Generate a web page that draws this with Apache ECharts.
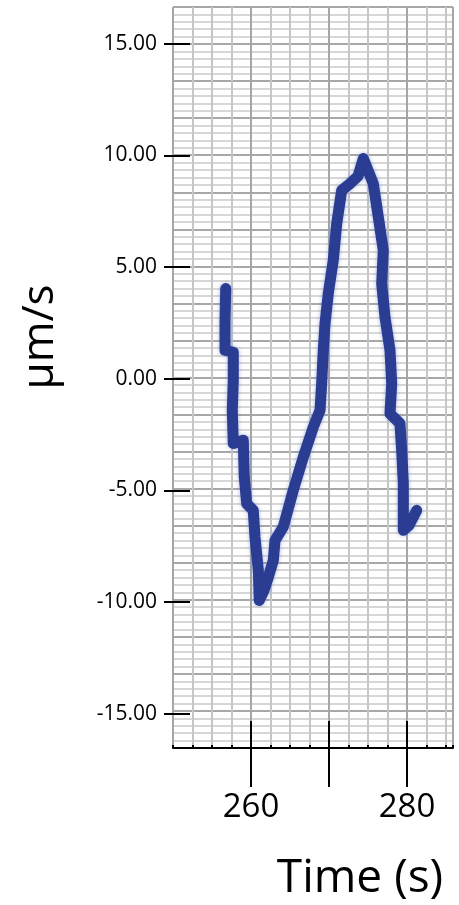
<!DOCTYPE html>
<html>
<head>
<meta charset="utf-8">
<script src="https://cdn.jsdelivr.net/npm/echarts@6/dist/echarts.min.js"></script>
<style>
  html, body { margin: 0; padding: 0; background: #fff; }
  #chart { width: 459px; height: 905px; }
</style>
</head>
<body>
<div id="chart"></div>
<script>
// time (s) and velocity (um/s)
var timeValues = [256.76, 256.67, 256.67, 257.73, 257.73, 257.60, 257.73, 259.01, 259.14, 259.45,
  260.29, 260.51, 260.94, 261.06, 261.67, 262.18, 262.86, 263.08, 264.14, 265.42,
  266.71, 267.99, 268.85, 269.06, 269.27, 269.49, 269.91, 270.55, 270.99, 271.63,
  272.69, 273.72, 274.40, 275.68, 276.32, 276.96, 276.76, 277.18, 277.82, 278.04,
  277.82, 279.10, 279.32, 279.53, 279.53, 280.26, 281.24];
var velocityValues = [4.03, 2.61, 1.27, 1.18, -0.08, -1.42, -2.91, -2.76, -4.41, -5.60,
  -5.90, -7.09, -8.58, -9.93, -9.48, -8.94, -8.14, -7.24, -6.64, -5.00,
  -3.51, -2.17, -1.42, -0.22, 1.27, 2.46, 3.81, 5.30, 6.94, 8.43,
  8.73, 9.06, 9.85, 8.73, 7.24, 5.75, 4.25, 2.76, 1.27, -0.22,
  -1.57, -2.01, -3.21, -4.70, -6.79, -6.57, -5.90];

var yTickValues = [15, 10, 5, 0, -5, -10, -15];
var xTickValues = [260, 270, 280];
var xLabelValues = [260, 280];

var font = '"Open Sans", "Noto Sans", sans-serif';
var xMin = 250, xMax = 285.9;
var yMin = -16.54, yMax = 16.64;

var points = timeValues.map(function (t, i) { return [t, velocityValues[i]]; });

var myChart = echarts.init(document.getElementById('chart'));

// hidden helper axes only draw the graph paper
function paperX(interval, color, width) {
    return {
        type: 'value', position: 'bottom', min: xMin, max: xMax, interval: interval,
        axisLine: { show: false, onZero: false }, axisTick: { show: false }, axisLabel: { show: false },
        splitLine: { show: true, lineStyle: { color: color, width: width } }
    };
}
function paperY(max, color, width) {
    return {
        type: 'value', position: 'left', min: 0, max: max, interval: 1,
        axisLine: { show: false, onZero: false }, axisTick: { show: false }, axisLabel: { show: false },
        splitLine: { show: true, lineStyle: { color: color, width: width } }
    };
}

var option = {
    animation: false,
    backgroundColor: '#ffffff',
    grid: { left: 173, right: 6, top: 7, bottom: 157 },
    xAxis: [
        {
            type: 'value', position: 'bottom', min: xMin, max: xMax,
            axisLine: { show: true, onZero: false, lineStyle: { color: '#000', width: 2 } },
            axisTick: { show: true, customValues: xTickValues, length: 39, lineStyle: { color: '#000', width: 2 } },
            axisLabel: { show: true, customValues: xLabelValues, margin: 43, fontSize: 33, fontFamily: font, color: '#000' },
            splitLine: { show: false }
        },
        {
            type: 'value', position: 'bottom', min: xMin, max: xMax,
            axisLine: { show: false, onZero: false },
            axisTick: { show: true, inside: true, customValues: xTickValues, length: 27, lineStyle: { color: '#000', width: 2 } },
            axisLabel: { show: false },
            splitLine: { show: false }
        },
        (function () {
            var a = paperX(2.5, '#c6c6c6', 2);
            a.axisTick = { show: true, inside: true, length: 3, lineStyle: { color: '#000', width: 2 } };
            return a;
        })(),
        paperX(10, '#a6a6a6', 2)
    ],
    yAxis: [
        {
            type: 'value', position: 'left', min: yMin, max: yMax, offset: -17,
            axisLine: { show: false, onZero: false },
            axisTick: { show: true, customValues: yTickValues, length: 26, lineStyle: { color: '#000', width: 2 } },
            axisLabel: {
                show: true, customValues: yTickValues, margin: 33, fontSize: 21, fontFamily: font, color: '#000',
                formatter: function (v) { return v.toFixed(2); }
            },
            splitLine: { show: false }
        },
        paperY(100, '#cacaca', 1.6),
        paperY(20, '#a8a8a8', 2)
    ],
    graphic: [
        {
            type: 'text', x: 360, y: 879,
            style: { text: 'Time (s)', font: '46px ' + font, fill: '#000',
                     textAlign: 'center', textVerticalAlign: 'middle', align: 'center', verticalAlign: 'middle' }
        },
        {
            type: 'text', x: 40, y: 337, rotation: Math.PI / 2,
            style: { text: 'µm/s', font: '44px ' + font, fill: '#000',
                     textAlign: 'center', textVerticalAlign: 'middle', align: 'center', verticalAlign: 'middle' }
        }
    ],
    series: [
        {
            type: 'line', xAxisIndex: 0, yAxisIndex: 0, z: 5,
            data: points,
            symbol: 'none',
            lineStyle: {
                color: '#2a3d92', width: 11, cap: 'round', join: 'round',
                shadowColor: 'rgba(110,130,200,0.6)', shadowBlur: 4
            }
        }
    ]
};

myChart.setOption(option);
</script>
</body>
</html>
